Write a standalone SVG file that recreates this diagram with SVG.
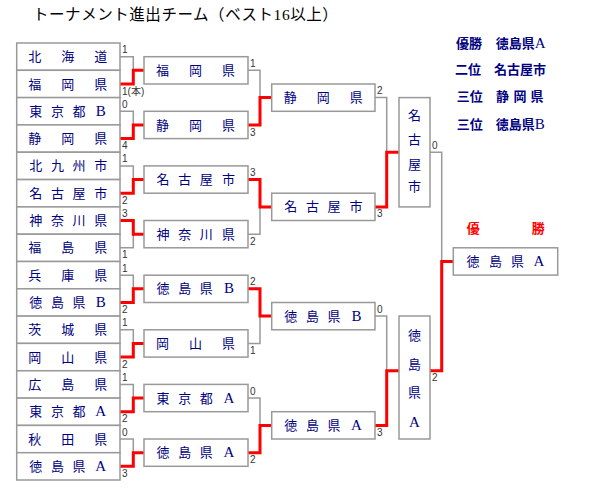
<svg xmlns="http://www.w3.org/2000/svg" width="600" height="500" viewBox="0 0 600 500">
<style>
.box{fill:#fff;stroke:#999;stroke-width:1.5}
.nm{font-family:'Liberation Serif','Noto Sans CJK JP',serif;font-size:13px;fill:#000080;text-anchor:middle}
.lat{font-size:15px}
.sc{font-family:'Liberation Sans','Noto Sans CJK JP',sans-serif;font-size:10px;fill:#333}
.lg{font-family:'Liberation Serif','Noto Sans CJK JP',serif;font-size:13px;fill:#000080;font-weight:bold}
.lgl{font-size:15px;font-weight:normal}
.g{fill:none;stroke:#999;stroke-width:1.5}
.r{fill:none;stroke:#f00;stroke-width:3}
.title{font-family:'Liberation Serif','Noto Sans CJK JP',serif;font-size:15.5px;fill:#000;letter-spacing:0.55px}
</style>
<rect width="600" height="500" fill="#fff"/>
<text class="title" x="33" y="20">トーナメント進出チーム（ベスト16以上）</text>

<g id="connectors">
<path class="g" d="M120 56.7H133.3V70.3M120 111.3H133.3V125M120 165.9H133.3V179.6M120 247.8H133.3V234.2M120 275.2H133.3V288.8M120 329.8H133.3V343.4M120 384.4H133.3V398.1M120 439H133.3V452.7"/>
<path class="g" d="M248 70.3H260V97.6M248 234.2H260V206.9M248 343.4H260V316.1M248 398.1H260V425.4"/>
<path class="g" d="M375 97.6H386.7V152.2M375 316.1H386.7V370.8M430 152.2H441.7V261.5"/>
<path class="r" d="M120 84H133.3V70.3H144M120 138.6H133.3V125H144M120 193.2H133.3V179.6H144M120 220.5H133.3V234.2H144M120 302.5H133.3V288.8H144M120 357.1H133.3V343.4H144M120 411.7H133.3V398.1H144M120 466.3H133.3V452.7H144"/>
<path class="r" d="M248 125H260V97.6H271.7M248 179.6H260V206.9H271.7M248 288.8H260V316.1H271.7M248 452.7H260V425.4H271.7"/>
<path class="r" d="M375 206.9H386.7V152.2H399M375 425.4H386.7V370.8H399M430 370.8H441.7V261.5H453.3"/>
</g>

<g id="scores" class="sc">
<text x="122" y="53.2">1</text><text x="122" y="94.5">1(本)</text>
<text x="122" y="107.8">0</text><text x="122" y="149.1">4</text>
<text x="122" y="162.4">1</text><text x="122" y="203.7">2</text>
<text x="122" y="217">3</text><text x="122" y="258.3">1</text>
<text x="122" y="271.7">1</text><text x="122" y="313">2</text>
<text x="122" y="326.3">1</text><text x="122" y="367.6">2</text>
<text x="122" y="380.9">1</text><text x="122" y="422.2">2</text>
<text x="122" y="435.5">0</text><text x="122" y="476.8">3</text>
<text x="250" y="66.8">1</text><text x="250" y="135.5">3</text>
<text x="250" y="176.1">3</text><text x="250" y="244.7">2</text>
<text x="250" y="285.3">2</text><text x="250" y="353.9">1</text>
<text x="250" y="394.6">0</text><text x="250" y="463.2">2</text>
<text x="377" y="94.1">2</text><text x="377" y="217.4">3</text>
<text x="377" y="312.6">0</text><text x="377" y="435.9">3</text>
<text x="432" y="148.7">0</text><text x="432" y="381.3">2</text>
</g>

<g id="r1-hokkaido"><rect class="box" x="16.7" y="43" width="103.3" height="27.3"/><text class="nm" x="34.7 67.7 100.7" y="61.2">北海道</text></g>
<g id="r1-fukuoka"><rect class="box" x="16.7" y="70.3" width="103.3" height="27.3"/><text class="nm" x="34.7 67.7 100.7" y="88.5">福岡県</text></g>
<g id="r1-tokyo-b"><rect class="box" x="16.7" y="97.6" width="103.3" height="27.3"/><text class="nm" x="35.7 57.4 79" y="115.8">東京都<tspan class="lat" x="100.7">B</tspan></text></g>
<g id="r1-shizuoka"><rect class="box" x="16.7" y="124.9" width="103.3" height="27.3"/><text class="nm" x="34.7 67.7 100.7" y="143.1">静岡県</text></g>
<g id="r1-kitakyushu"><rect class="box" x="16.7" y="152.2" width="103.3" height="27.3"/><text class="nm" x="35.7 57.4 79 100.7" y="170.4">北九州市</text></g>
<g id="r1-nagoya"><rect class="box" x="16.7" y="179.6" width="103.3" height="27.3"/><text class="nm" x="35.7 57.4 79 100.7" y="197.7">名古屋市</text></g>
<g id="r1-kanagawa"><rect class="box" x="16.7" y="206.9" width="103.3" height="27.3"/><text class="nm" x="35.7 57.4 79 100.7" y="225">神奈川県</text></g>
<g id="r1-fukushima"><rect class="box" x="16.7" y="234.2" width="103.3" height="27.3"/><text class="nm" x="34.7 67.7 100.7" y="252.3">福島県</text></g>
<g id="r1-hyogo"><rect class="box" x="16.7" y="261.5" width="103.3" height="27.3"/><text class="nm" x="34.7 67.7 100.7" y="279.7">兵庫県</text></g>
<g id="r1-tokushima-b"><rect class="box" x="16.7" y="288.8" width="103.3" height="27.3"/><text class="nm" x="35.7 57.4 79" y="307">徳島県<tspan class="lat" x="100.7">B</tspan></text></g>
<g id="r1-ibaraki"><rect class="box" x="16.7" y="316.1" width="103.3" height="27.3"/><text class="nm" x="34.7 67.7 100.7" y="334.3">茨城県</text></g>
<g id="r1-okayama"><rect class="box" x="16.7" y="343.4" width="103.3" height="27.3"/><text class="nm" x="34.7 67.7 100.7" y="361.6">岡山県</text></g>
<g id="r1-hiroshima"><rect class="box" x="16.7" y="370.8" width="103.3" height="27.3"/><text class="nm" x="34.7 67.7 100.7" y="388.9">広島県</text></g>
<g id="r1-tokyo-a"><rect class="box" x="16.7" y="398.1" width="103.3" height="27.3"/><text class="nm" x="35.7 57.4 79" y="416.2">東京都<tspan class="lat" x="100.7">A</tspan></text></g>
<g id="r1-akita"><rect class="box" x="16.7" y="425.4" width="103.3" height="27.3"/><text class="nm" x="34.7 67.7 100.7" y="443.5">秋田県</text></g>
<g id="r1-tokushima-a"><rect class="box" x="16.7" y="452.7" width="103.3" height="27.3"/><text class="nm" x="35.7 57.4 79" y="470.8">徳島県<tspan class="lat" x="100.7">A</tspan></text></g>

<g id="r2-fukuoka"><rect class="box" x="144" y="56.7" width="104" height="27.3"/><text class="nm" x="162.5 195.5 228.5" y="74.8">福岡県</text></g>
<g id="r2-shizuoka"><rect class="box" x="144" y="111.3" width="104" height="27.3"/><text class="nm" x="162.5 195.5 228.5" y="129.5">静岡県</text></g>
<g id="r2-nagoya"><rect class="box" x="144" y="165.9" width="104" height="27.3"/><text class="nm" x="163 184.7 206.3 228.5" y="184.1">名古屋市</text></g>
<g id="r2-kanagawa"><rect class="box" x="144" y="220.5" width="104" height="27.3"/><text class="nm" x="163 184.7 206.3 228.5" y="238.7">神奈川県</text></g>
<g id="r2-tokushima-b"><rect class="box" x="144" y="275.2" width="104" height="27.3"/><text class="nm" x="163 184.7 206.3" y="293.3">徳島県<tspan class="lat" x="229">B</tspan></text></g>
<g id="r2-okayama"><rect class="box" x="144" y="329.8" width="104" height="27.3"/><text class="nm" x="162.5 195.5 228.5" y="347.9">岡山県</text></g>
<g id="r2-tokyo-a"><rect class="box" x="144" y="384.4" width="104" height="27.3"/><text class="nm" x="163 184.7 206.3" y="402.6">東京都<tspan class="lat" x="229">A</tspan></text></g>
<g id="r2-tokushima-a"><rect class="box" x="144" y="439" width="104" height="27.3"/><text class="nm" x="163 184.7 206.3" y="457.2">徳島県<tspan class="lat" x="229">A</tspan></text></g>

<g id="r3-shizuoka"><rect class="box" x="271.7" y="84" width="103.3" height="27.3"/><text class="nm" x="290.2 323.2 356.2" y="102.1">静岡県</text></g>
<g id="r3-nagoya"><rect class="box" x="271.7" y="193.2" width="103.3" height="27.3"/><text class="nm" x="290.7 312.4 334 356" y="211.4">名古屋市</text></g>
<g id="r3-tokushima-b"><rect class="box" x="271.7" y="302.5" width="103.3" height="27.3"/><text class="nm" x="290.7 312.4 334" y="320.6">徳島県<tspan class="lat" x="356.5">B</tspan></text></g>
<g id="r3-tokushima-a"><rect class="box" x="271.7" y="411.7" width="103.3" height="27.3"/><text class="nm" x="290.7 312.4 334" y="429.9">徳島県<tspan class="lat" x="356.5">A</tspan></text></g>

<g id="sf-nagoya"><rect class="box" x="399" y="97.6" width="31" height="109.3"/><text class="nm" x="414.5" y="119.5">名</text><text class="nm" x="414.5" y="143.5">古</text><text class="nm" x="414.5" y="168.5">屋</text><text class="nm" x="414.5" y="191">市</text></g>
<g id="sf-tokushima-a"><rect class="box" x="399" y="316" width="31" height="123"/><text class="nm" x="414.5" y="339.5">徳</text><text class="nm" x="414.5" y="368.5">島</text><text class="nm" x="414.5" y="397">県</text><text class="nm lat" x="414.5" y="427">A</text></g>

<g id="final-tokushima-a"><rect class="box" x="453.3" y="247.8" width="104.4" height="27.3"/><text class="nm" x="473 495.5 517.5" y="266">徳島県<tspan class="lat" x="539">A</tspan></text></g>

<g id="champion-label"><text class="lg" x="473.3 538.3" y="233" text-anchor="middle" style="fill:#f00">優勝</text></g>

<g id="legend" class="lg">
<text x="456" y="48">優勝</text><text x="495.7" y="48">徳島県<tspan class="lgl">A</tspan></text>
<text x="455" y="74">二位</text><text x="494" y="74">名古屋市</text>
<text x="456.7" y="101.2">三位</text><text x="502.5 520 537" y="101.2" text-anchor="middle">静岡県</text>
<text x="456.7" y="128.5">三位</text><text x="495.7" y="128.5">徳島県<tspan class="lgl">B</tspan></text>
</g>
</svg>
